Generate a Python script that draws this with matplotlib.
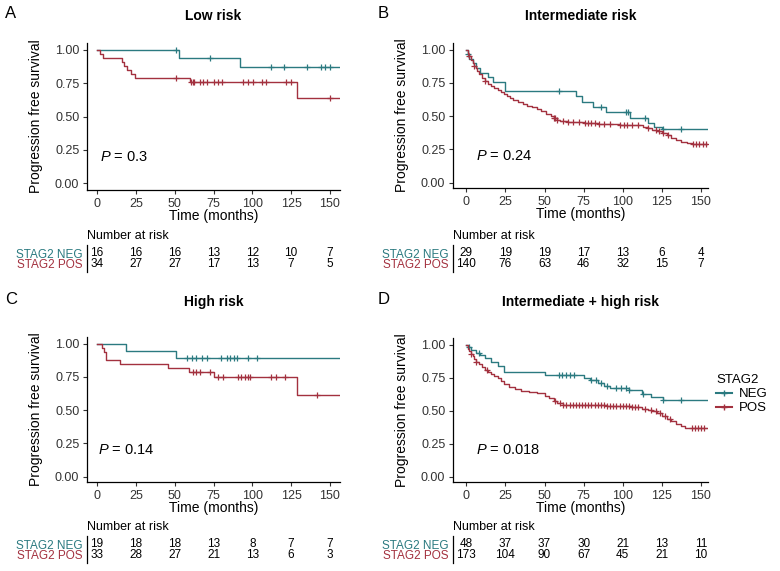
import numpy as np
import matplotlib
matplotlib.use('Agg')
import matplotlib.pyplot as plt
from matplotlib.lines import Line2D

plt.rcParams['font.family'] = ['Liberation Sans', 'DejaVu Sans']
plt.rcParams['mathtext.fontset'] = 'custom'
plt.rcParams['mathtext.it'] = 'Liberation Sans:italic'
plt.rcParams['mathtext.rm'] = 'Liberation Sans'

NEG_COLOR = '#2B7A80'
POS_COLOR = '#A3313F'
TEXT_GREY = '#333333'

risk_times = [0, 25, 50, 75, 100, 125, 150]

# Panel A - low risk
neg_a_t = [0, 52.5, 92]
neg_a_s = [1.0, 0.9375, 0.87]
neg_a_cens = [51, 73, 112, 120.5, 135, 144.5, 147, 150]
pos_a_t = [0, 2, 4, 16, 17.5, 19.5, 22, 24.5, 60, 129]
pos_a_s = [1.0, 0.97, 0.94, 0.91, 0.88, 0.85, 0.82, 0.79, 0.76, 0.635]
pos_a_cens = [51, 60.5, 61.5, 62.5, 66, 68.5, 71, 75, 78, 80.5, 94, 97.5, 100.5,
              106.5, 109, 122, 125, 150]
risk_a_neg = [16, 16, 16, 13, 12, 10, 7]
risk_a_pos = [34, 27, 27, 17, 13, 7, 5]

# Panel B - intermediate risk
neg_b_t = [0, 1, 2, 4, 6, 9, 14, 17, 24.5, 70, 74, 81, 89, 104.5, 116, 120, 125]
neg_b_s = [1.0, 0.966, 0.931, 0.897, 0.862, 0.828, 0.793, 0.759, 0.69, 0.648,
           0.606, 0.568, 0.53, 0.483, 0.449, 0.42, 0.405]
neg_b_cens = [1, 59.5, 86, 102, 103.5, 114, 126, 137]
pos_b_t = [0, 1, 2, 3, 4, 5, 6, 7, 8, 10, 12, 14, 16, 18, 20, 22, 24, 26, 28, 30,
           33, 36, 39, 42, 45, 48, 51, 54, 56, 58, 60, 65, 75, 84, 98, 108, 113,
           116, 119, 122, 125, 128, 131, 134, 137, 141, 144]
pos_b_s = [1.0, 0.97, 0.95, 0.925, 0.90, 0.875, 0.86, 0.84, 0.82, 0.79, 0.765,
           0.745, 0.73, 0.715, 0.70, 0.685, 0.67, 0.655, 0.64, 0.625, 0.61, 0.595,
           0.58, 0.57, 0.555, 0.54, 0.52, 0.50, 0.485, 0.47, 0.46, 0.455, 0.45,
           0.44, 0.435, 0.43, 0.42, 0.41, 0.395, 0.385, 0.37, 0.355, 0.335, 0.32,
           0.305, 0.295, 0.288]
pos_b_cens = [2, 5, 12, 56, 57, 58, 62, 65, 68, 72, 76, 78, 80, 82, 85, 88, 92,
              98, 101, 103, 106, 110, 116, 121, 123, 126, 129, 145, 147, 149, 151, 153]
risk_b_neg = [29, 19, 19, 17, 13, 6, 4]
risk_b_pos = [140, 76, 63, 46, 32, 15, 7]

# Panel C - high risk
neg_c_t = [0, 18.5, 51]
neg_c_s = [1.0, 0.947, 0.89]
neg_c_cens = [58, 61, 64, 67.5, 71, 80, 83.5, 85.5, 88, 90, 97, 103]
pos_c_t = [0, 3, 4.5, 5.5, 15, 46, 59, 75, 129]
pos_c_s = [1.0, 0.97, 0.94, 0.88, 0.85, 0.82, 0.785, 0.75, 0.617]
pos_c_cens = [62, 64, 66, 72.5, 78, 81, 91, 93, 95, 97, 98.5, 112, 115, 121, 142]
risk_c_neg = [19, 18, 18, 13, 8, 7, 7]
risk_c_pos = [33, 28, 27, 21, 13, 6, 3]

# Panel D - intermediate + high risk
neg_d_t = [0, 1, 3, 6, 9, 12, 16, 20, 24, 50, 75, 79, 84, 88, 92, 104, 112, 118, 126]
neg_d_s = [1.0, 0.98, 0.96, 0.94, 0.92, 0.90, 0.87, 0.84, 0.79, 0.77, 0.75, 0.73,
           0.71, 0.69, 0.67, 0.655, 0.625, 0.60, 0.58]
neg_d_cens = [2, 8, 59, 61, 63.5, 66, 69, 80, 83, 86, 90, 96, 99, 102, 104, 113, 126, 137]
pos_d_t = [0, 1, 2, 3, 4, 5, 6, 8, 10, 12, 14, 16, 18, 20, 22, 24, 27, 31, 35, 40,
           45, 50, 53, 56, 58, 62, 75, 90, 105, 112, 116, 119, 122, 125, 128, 131,
           134, 137, 140]
pos_d_s = [1.0, 0.97, 0.95, 0.93, 0.91, 0.89, 0.87, 0.85, 0.83, 0.81, 0.79, 0.775,
           0.76, 0.745, 0.725, 0.70, 0.68, 0.665, 0.65, 0.64, 0.63, 0.61, 0.595,
           0.575, 0.555, 0.545, 0.54, 0.535, 0.525, 0.515, 0.505, 0.495, 0.48,
           0.46, 0.44, 0.42, 0.40, 0.385, 0.37]
pos_d_cens = [3, 6, 13, 57, 60, 62, 64, 66, 68, 70, 72, 74, 76, 78, 80, 82, 84, 86,
              88, 90, 92, 94, 96, 98, 100, 102, 104, 106, 108, 110, 114, 118, 121,
              124, 127, 130, 144, 146, 148, 150, 152]
risk_d_neg = [48, 37, 37, 30, 21, 13, 11]
risk_d_pos = [173, 104, 90, 67, 45, 21, 10]

titles = ['Low risk', 'Intermediate risk', 'High risk', 'Intermediate + high risk']
letters = ['A', 'B', 'C', 'D']
pvals = ['0.3', '0.24', '0.14', '0.018']

W, H = 780.0, 571.0


def px_box(x0, y0, x1, y1):
    # pixel box (top-left origin) -> figure fraction rect
    return [x0 / W, 1 - y1 / H, (x1 - x0) / W, (y1 - y0) / H]


def draw_curve(ax, t, s, cens, end, color):
    t = np.asarray(t, float)
    s = np.asarray(s, float)
    ax.step(np.append(t, end), np.append(s, s[-1]), where='post', color=color, lw=1.0)
    cens = np.asarray(cens, float)
    cy = s[np.searchsorted(t, cens, side='right') - 1]
    ax.plot(cens, cy, ls='none', marker='+', ms=5, mew=0.9, color=color)


fig = plt.figure(figsize=(7.8, 5.71), dpi=100)

panels = [
    dict(neg=(neg_a_t, neg_a_s, neg_a_cens, 156), pos=(pos_a_t, pos_a_s, pos_a_cens, 156),
         risk=(risk_a_neg, risk_a_pos), box=(87, 43, 340, 190), tab=(245, 272),
         xlim=(-6.5, 156.5), ylim=(-0.05, 1.05), px=2, top=True),
    dict(neg=(neg_b_t, neg_b_s, neg_b_cens, 155), pos=(pos_b_t, pos_b_s, pos_b_cens, 155),
         risk=(risk_b_neg, risk_b_pos), box=(453, 43, 708, 188), tab=(245, 272),
         xlim=(-8.5, 154.5), ylim=(-0.04, 1.05), px=6, top=True),
    dict(neg=(neg_c_t, neg_c_s, neg_c_cens, 156), pos=(pos_c_t, pos_c_s, pos_c_cens, 156),
         risk=(risk_c_neg, risk_c_pos), box=(87, 337, 340, 482), tab=(536, 563),
         xlim=(-6.5, 156.5), ylim=(-0.04, 1.05), px=0.5, top=False),
    dict(neg=(neg_d_t, neg_d_s, neg_d_cens, 155), pos=(pos_d_t, pos_d_s, pos_d_cens, 155),
         risk=(risk_d_neg, risk_d_pos), box=(453, 338, 708, 482), tab=(536, 563),
         xlim=(-8.5, 154.5), ylim=(-0.04, 1.05), px=6, top=False),
]

for i, p in enumerate(panels):
    x0, y0, x1, y1 = p['box']
    ax = fig.add_axes(px_box(x0, y0, x1, y1))
    draw_curve(ax, *p['neg'], NEG_COLOR)
    draw_curve(ax, *p['pos'], POS_COLOR)
    ax.set_xlim(*p['xlim'])
    ax.set_ylim(*p['ylim'])
    ax.set_xticks(risk_times)
    ax.set_yticks([0, 0.25, 0.5, 0.75, 1.0])
    ax.set_yticklabels(['0.00', '0.25', '0.50', '0.75', '1.00'])
    for side in ['top', 'right']:
        ax.spines[side].set_visible(False)
    for side in ['left', 'bottom']:
        ax.spines[side].set_linewidth(0.9)
    ax.tick_params(labelsize=9, labelcolor=TEXT_GREY, length=3, width=0.8,
                   color=TEXT_GREY, pad=2.5)
    ax.set_xlabel('Time (months)', fontsize=10, va='center')
    ax.set_ylabel('Progression free survival', fontsize=10)
    ax.xaxis.set_label_coords(0.5, -26.0 / (y1 - y0))
    ax.yaxis.set_label_coords(-0.172, 0.5)
    ax.text(p['px'], 0.2, r'$P$ = ' + pvals[i], fontsize=10.5, ha='left', va='center')

    # title and panel letter
    title_y = 16 if p['top'] else 302
    fig.text((x0 + x1) / 2 / W, 1 - title_y / H, titles[i], fontsize=10,
             fontweight='bold', ha='center', va='center')
    letter_x = 5 if x0 < 200 else 378
    fig.text(letter_x / W, 1 - (title_y - 3) / H, letters[i], fontsize=12,
             ha='left', va='center')

    # number at risk table
    t0, t1 = p['tab']
    tab = fig.add_axes(px_box(x0, t0, x1, t1))
    tab.set_xlim(*p['xlim'])
    tab.set_ylim(-0.75, 1.75)
    for side in ['top', 'right', 'bottom']:
        tab.spines[side].set_visible(False)
    tab.spines['left'].set_linewidth(0.9)
    tab.set_xticks([])
    tab.set_yticks([1, 0])
    tab.set_yticklabels(['STAG2 NEG', 'STAG2 POS'], fontsize=8.5)
    tab.tick_params(axis='y', length=0, pad=3)
    for lab, col in zip(tab.get_yticklabels(), [NEG_COLOR, POS_COLOR]):
        lab.set_color(col)
    neg_risk, pos_risk = p['risk']
    for t, n_neg, n_pos in zip(risk_times, neg_risk, pos_risk):
        tab.text(t, 1, str(n_neg), fontsize=8.5, ha='center', va='center')
        tab.text(t, 0, str(n_pos), fontsize=8.5, ha='center', va='center')
    fig.text(x0 / W, 1 - (t0 - 9) / H, 'Number at risk', fontsize=9,
             ha='left', va='center')

handles = [Line2D([], [], color=NEG_COLOR, lw=1.5, marker='+', ms=5, mew=1),
           Line2D([], [], color=POS_COLOR, lw=1.5, marker='+', ms=5, mew=1)]
fig.legend(handles, ['NEG', 'POS'], title='STAG2', loc='upper left',
           bbox_to_anchor=(716 / W, 1 - 374 / H), frameon=False, fontsize=9.5,
           title_fontsize=9.5, handlelength=1.2, handletextpad=0.5,
           labelspacing=0.15, borderaxespad=0, borderpad=0, alignment='left')

fig.savefig('out.png', dpi=100)
